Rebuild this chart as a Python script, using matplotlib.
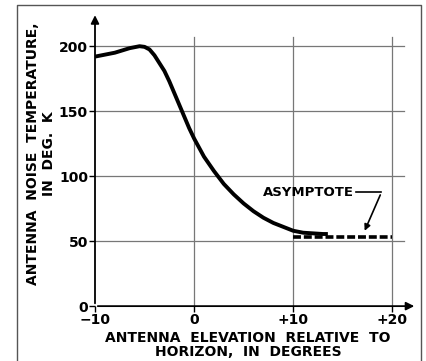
import matplotlib.pyplot as plt
from matplotlib.lines import Line2D

# Curve (elevation deg, noise temp K)
elev = [-10, -8, -6.5, -5.5, -5, -4.5, -4, -3.5, -3, -2.5, -2, -1.5, -1, -0.5, 0,
        1, 2, 3, 4, 5, 6, 7, 8, 9, 10, 11, 12, 13, 13.5]
temp = [192, 195, 198.5, 200, 199.5, 197.5, 193, 187, 181, 173, 164, 155, 146, 137, 129,
        115, 104, 94, 86, 79, 73, 68, 64, 61, 58, 56.5, 56, 55.5, 55.5]

# asymptote
asym_x = [10, 20]
asym_y = [53, 53]

xticks = [-10, 0, 10, 20]
xlabels = ["\u221210", "0", "+10", "+20"]
yticks = [0, 50, 100, 150, 200]

plt.rcParams['font.family'] = ['DejaVu Sans']
plt.rcParams['font.weight'] = 'bold'

fig = plt.figure(figsize=(4.26, 3.61), dpi=100)
ax = fig.add_axes([0.223, 0.152, 0.756, 0.81])
ax.set_xlim(-10, 22.5)
ax.set_ylim(0, 225)
for s in ax.spines.values():
    s.set_visible(False)

# grid
for x in [0, 10, 20]:
    ax.plot([x, x], [0, 207], color='#777777', lw=0.9, zorder=1)
for y in [50, 100, 150, 200]:
    ax.plot([-10, 21.2], [y, y], color='#777777', lw=0.9, zorder=1)

# axes with arrows
ax.annotate('', xy=(-10, 226), xytext=(-10, 0), annotation_clip=False,
            arrowprops=dict(arrowstyle='-|>', color='black', lw=1.3, mutation_scale=12))
ax.annotate('', xy=(22.5, 0), xytext=(-10, 0), annotation_clip=False,
            arrowprops=dict(arrowstyle='-|>', color='black', lw=1.3, mutation_scale=12))

ax.plot(elev, temp, color='black', lw=2.8, solid_capstyle='butt', zorder=3)
ax.plot(asym_x, asym_y, color='black', lw=2.6, dashes=(2.2, 0.8), zorder=3)

ax.set_xticks(xticks)
ax.set_xticklabels(xlabels)
ax.set_yticks(yticks)
ax.tick_params(axis='both', length=4, width=1, labelsize=10, pad=1)
for lab in ax.get_xticklabels() + ax.get_yticklabels():
    lab.set_fontweight('bold')

ax.text(11.5, 87.5, "ASYMPTOTE", fontsize=9.5, fontweight='bold', ha='center', va='center')
ax.plot([16.3, 18.9], [87.5, 87.5], color='black', lw=1.2)
ax.annotate('', xy=(17.1, 56), xytext=(18.9, 87.5),
            arrowprops=dict(arrowstyle='-|>', color='black', lw=1.2, mutation_scale=9))

fig.text(0.582, 0.045, "ANTENNA  ELEVATION  RELATIVE  TO\nHORIZON,  IN  DEGREES",
         ha='center', va='center', fontsize=10, fontweight='bold', linespacing=1.0)
fig.text(0.097, 0.575, "ANTENNA  NOISE  TEMPERATURE,\nIN  DEG.  K", rotation=90,
         ha='center', va='center', fontsize=10, fontweight='bold', linespacing=1.15)

# outer frame
fig.add_artist(Line2D([17/426, 17/426, 421/426, 421/426], [0, 356/361, 356/361, 0],
                      transform=fig.transFigure, color='#555555', lw=1.0))

plt.savefig("out.png", dpi=100)
